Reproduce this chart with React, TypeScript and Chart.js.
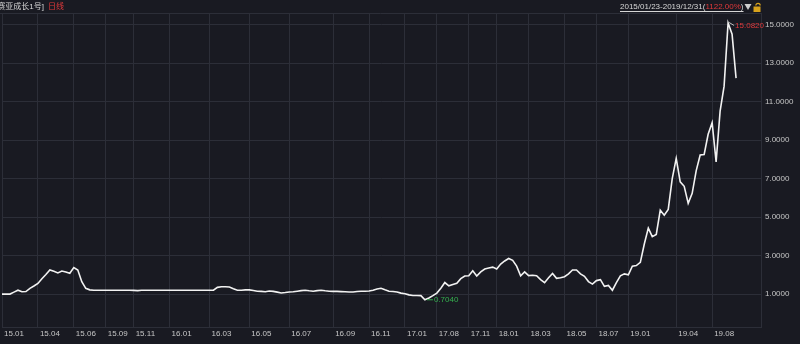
import React, { useEffect, useRef } from 'react';
import { Chart, registerables } from 'chart.js';
Chart.register(...registerables);

// Net asset value per reporting point (index axis)
const navValues = [
  1.00, 1.00, 1.00, 1.10, 1.20, 1.12, 1.13, 1.30, 1.42, 1.55,
  1.80, 2.02, 2.25, 2.18, 2.10, 2.20, 2.15, 2.08, 2.38, 2.25,
  1.64, 1.30, 1.22, 1.20, 1.20, 1.20, 1.20, 1.20, 1.20, 1.20,
  1.20, 1.20, 1.20, 1.19, 1.18, 1.20, 1.20, 1.20, 1.20, 1.20,
  1.20, 1.20, 1.20, 1.20, 1.20, 1.20, 1.20, 1.20, 1.20, 1.20,
  1.20, 1.20, 1.20, 1.20, 1.35, 1.38, 1.38, 1.37, 1.28, 1.20,
  1.20, 1.22, 1.22, 1.19, 1.15, 1.14, 1.12, 1.16, 1.14, 1.10,
  1.06, 1.08, 1.11, 1.12, 1.15, 1.18, 1.20, 1.17, 1.15, 1.18,
  1.20, 1.17, 1.15, 1.14, 1.14, 1.13, 1.12, 1.11, 1.11, 1.13,
  1.15, 1.15, 1.16, 1.20, 1.26, 1.30, 1.22, 1.15, 1.13, 1.11,
  1.05, 1.02, 0.96, 0.93, 0.93, 0.92, 0.704, 0.80, 0.92, 1.05,
  1.30, 1.60, 1.43, 1.50, 1.56, 1.80, 1.94, 1.95, 2.21, 1.94,
  2.15, 2.30, 2.35, 2.40, 2.30, 2.56, 2.72, 2.85, 2.75, 2.45,
  1.95, 2.15, 1.96, 1.98, 1.95, 1.75, 1.59, 1.85, 2.07, 1.82,
  1.85, 1.90, 2.05, 2.25, 2.25, 2.05, 1.92, 1.65, 1.52, 1.70,
  1.75, 1.40, 1.45, 1.20, 1.60, 1.95, 2.05, 2.00, 2.45, 2.48,
  2.65, 3.60, 4.43, 3.98, 4.10, 5.36, 5.10, 5.40, 7.00, 8.05,
  6.83, 6.60, 5.71, 6.23, 7.40, 8.22, 8.25, 9.30, 9.90, 7.87,
  10.50, 11.80, 15.082, 14.50, 12.22,
];

const xTickIndex = [0, 9, 18, 26, 33, 42, 52, 62, 72, 83, 92, 101, 109, 117, 124, 132, 141, 149, 157, 169, 178];
const xTickLabels = [
  '15.01', '15.04', '15.06', '15.09', '15.11', '16.01', '16.03', '16.05', '16.07', '16.09', '16.11',
  '17.01', '17.08', '17.11', '18.01', '18.03', '18.05', '18.07', '19.01', '19.04', '19.08',
];
const yTickValues = [1, 3, 5, 7, 9, 11, 13, 15];

const fundName = '[赛亚成长1号]';
const periodType = '日线';
const periodText = '2015/01/23-2019/12/31';
const returnText = '1122.00%';

const BG = '#191a22';
const GRID = '#2c2e38';
const TEXT = '#c6c6c6';
const RED = '#e0393b';
const GREEN = '#35b04f';
const FONT = '"Liberation Sans", "Noto Sans CJK SC", sans-serif';

export default function App() {
  const ref = useRef<HTMLCanvasElement>(null);

  useEffect(() => {
    document.body.style.margin = '0';
    document.body.style.background = BG;
    const canvas = ref.current!;
    const maxV = Math.max(...navValues);
    const maxI = navValues.indexOf(maxV);
    const minV = Math.min(...navValues);
    const minI = navValues.indexOf(minV);

    const decor = {
      id: 'decor',
      beforeDraw(chart: any) {
        const ctx = chart.ctx;
        ctx.save();
        ctx.fillStyle = BG;
        ctx.fillRect(0, 0, chart.width, chart.height);
        ctx.restore();
      },
      afterDraw(chart: any) {
        const ctx = chart.ctx;
        const area = chart.chartArea;
        const xs = chart.scales.x;
        const ys = chart.scales.y;
        ctx.save();
        // top border
        ctx.strokeStyle = GRID;
        ctx.lineWidth = 1;
        ctx.beginPath();
        ctx.moveTo(0, area.top + 0.5);
        ctx.lineTo(area.right, area.top + 0.5);
        ctx.stroke();

        ctx.font = `8px ${FONT}`;
        ctx.textBaseline = 'middle';
        // left header
        ctx.textAlign = 'right';
        ctx.fillStyle = '#d6d6d6';
        ctx.fillText(fundName, 44, 7);
        ctx.textAlign = 'left';
        ctx.fillStyle = RED;
        ctx.fillText(periodType, 48, 7);

        // right header
        const x0 = 620;
        let x = x0;
        const y = 7;
        ctx.fillStyle = '#d6d6d6';
        ctx.fillText(periodText + '(', x, y);
        x += ctx.measureText(periodText + '(').width;
        ctx.fillStyle = RED;
        ctx.fillText(returnText, x, y);
        x += ctx.measureText(returnText).width;
        ctx.fillStyle = '#d6d6d6';
        ctx.fillText(')', x, y);
        x += ctx.measureText(')').width;
        ctx.strokeStyle = '#d6d6d6';
        ctx.beginPath();
        ctx.moveTo(x0, 11.5);
        ctx.lineTo(x, 11.5);
        ctx.stroke();
        // triangle
        ctx.fillStyle = '#cfcfcf';
        ctx.beginPath();
        ctx.moveTo(x + 1, 4);
        ctx.lineTo(x + 8, 4);
        ctx.lineTo(x + 4.5, 10);
        ctx.closePath();
        ctx.fill();
        // lock
        const lx = x + 10;
        ctx.fillStyle = '#d7a21c';
        ctx.fillRect(lx, 6.5, 7, 5.5);
        ctx.strokeStyle = '#d7a21c';
        ctx.lineWidth = 1.2;
        ctx.beginPath();
        ctx.arc(lx + 4.5, 5.5, 2.2, Math.PI, 0);
        ctx.stroke();

        // max annotation
        const mx = xs.getPixelForValue(maxI);
        const my = ys.getPixelForValue(maxV);
        ctx.strokeStyle = '#bdbdbd';
        ctx.lineWidth = 1;
        ctx.beginPath();
        ctx.moveTo(mx + 1, my - 0.5);
        ctx.lineTo(mx + 6, my + 2.5);
        ctx.stroke();
        ctx.fillStyle = RED;
        ctx.textAlign = 'left';
        ctx.fillText(maxV.toFixed(4), mx + 7, my + 3);

        // min annotation
        const nx = xs.getPixelForValue(minI);
        const ny = ys.getPixelForValue(minV);
        ctx.strokeStyle = GREEN;
        ctx.beginPath();
        ctx.moveTo(nx + 2, ny);
        ctx.lineTo(nx + 8, ny);
        ctx.stroke();
        ctx.fillStyle = GREEN;
        ctx.fillText(minV.toFixed(4), nx + 9, ny);
        ctx.restore();
      },
    };

    const chart = new Chart(canvas, {
      type: 'line',
      data: {
        datasets: [
          {
            data: navValues.map((v, i) => ({ x: i, y: v })),
            borderColor: '#f2f2f2',
            borderWidth: 1.6,
            pointRadius: 0,
            tension: 0,
            fill: false,
          },
        ],
      },
      options: {
        animation: false,
        responsive: false,
        events: [],
        layout: { padding: { top: 13, left: 0, right: 0, bottom: 0 } },
        plugins: { legend: { display: false }, tooltip: { enabled: false } },
        scales: {
          x: {
            type: 'linear',
            min: 0,
            max: 190.25,
            afterBuildTicks: (s: any) => {
              s.ticks = xTickIndex.map((v) => ({ value: v }));
            },
            afterFit: (s: any) => {
              s.height = 17;
            },
            grid: { color: GRID, drawTicks: false, lineWidth: 1 },
            border: { display: true, color: GRID },
            ticks: {
              autoSkip: false,
              maxRotation: 0,
              minRotation: 0,
              align: 'start',
              labelOffset: 2,
              padding: 2,
              color: TEXT,
              font: { family: FONT, size: 8 },
              callback: (_v: any, i: number) => xTickLabels[i],
            },
          },
          y: {
            position: 'right',
            min: -0.71,
            max: 15.6,
            afterBuildTicks: (s: any) => {
              s.ticks = yTickValues.map((v) => ({ value: v }));
            },
            afterFit: (s: any) => {
              s.width = 39;
            },
            grid: { color: GRID, drawTicks: false, lineWidth: 1 },
            border: { display: true, color: GRID },
            ticks: {
              padding: 4,
              color: TEXT,
              font: { family: FONT, size: 8 },
              callback: (v: any) => Number(v).toFixed(4),
            },
          },
        },
      } as any,
      plugins: [decor],
    });
    return () => chart.destroy();
  }, []);

  return <canvas ref={ref} width={800} height={344} style={{ display: 'block' }} />;
}
